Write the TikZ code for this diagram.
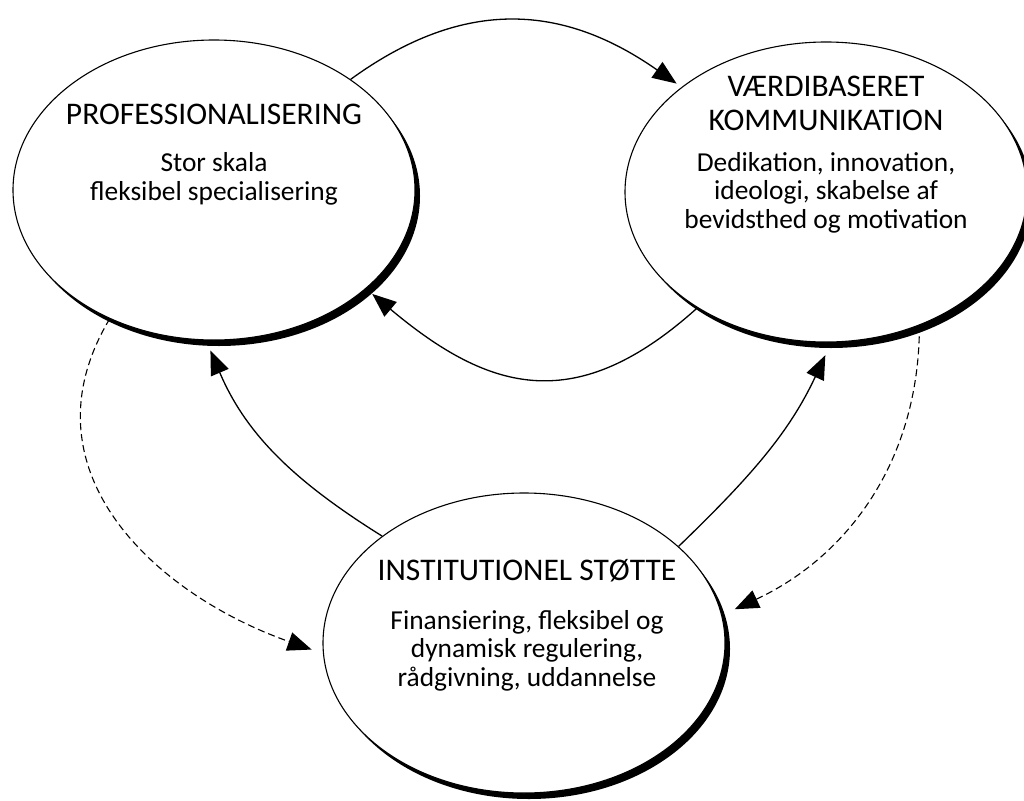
\documentclass[tikz,border=0pt]{standalone}
\usepackage{fontspec}
\setmainfont{Carlito}
\usetikzlibrary{arrows.meta,shapes.geometric,shadows}

\begin{document}
\begin{tikzpicture}[x=1pt, y=1pt,
		bubble/.style={ellipse, draw, fill=white, line width=1.1pt, minimum width=402pt, minimum height=300pt, inner sep=0pt,
			drop shadow={shadow xshift=5pt, shadow yshift=-6pt, fill=black, opacity=1}},
		headline/.style={font=\fontsize{31.5}{34}\selectfont, align=center, anchor=base},
		bodytext/.style={font=\fontsize{27.4}{28.5}\selectfont, align=center, anchor=base},
		flow/.style={line width=1.3pt, -{Triangle[length=24pt, width=19pt]}},
		hint/.style={flow, line width=1.1pt, dash pattern=on 7pt off 4pt}]
			%%%%% START %%%%%
			
			\useasboundingbox (0,0) rectangle (1024,-800);
			
			\node[bubble] (prof) at (214,-190) {};
			\node[bubble] (vaerdi) at (826,-192) {};
			\node[bubble] (inst) at (524,-643) {};
			
			% text nodes sit on the baseline of their last line
			\node[headline] (profhead) at (214,-124) {PROFESSIONALISERING};
			\node[bodytext] (profbody) at (214,-200) {Stor skala\\fleksibel specialisering};
			
			\node[headline] (vaerdihead) at (826,-130) {VÆRDIBASERET\\KOMMUNIKATION};
			\node[bodytext] (vaerdibody) at (826,-228) {Dedikation, innovation,\\ideologi, skabelse af\\bevidsthed og motivation};
			
			\node[headline] (insthead) at (527,-580) {INSTITUTIONEL STØTTE};
			\node[bodytext] (instbody) at (527,-686) {Finansiering, fleksibel og\\dynamisk regulering,\\rådgivning, uddannelse};
			
			\draw[flow, shorten >=6pt] (prof.39) to[out=36, in=145, looseness=1.1] (vaerdi.144);
			\draw[flow, shorten >=8pt] (vaerdi.222) to[out=222, in=-40, looseness=1.25] (prof.-33);
			\draw[flow, shorten >=11pt] (inst.143) to[out=148, in=-67] (prof.-93);
			\draw[flow, shorten >=14pt] (inst.32) to[out=44, in=-115] (vaerdi.-88);
			
			\draw[hint, shorten >=12pt] (prof.231) .. controls +(-90,-150) and +(-170,60) .. (inst.183);
			\draw[hint, shorten >=14pt] (vaerdi.-55) to[out=-90, in=25] (inst.8);
			
			%%%%% END %%%%%
		\end{tikzpicture}
\end{document}
